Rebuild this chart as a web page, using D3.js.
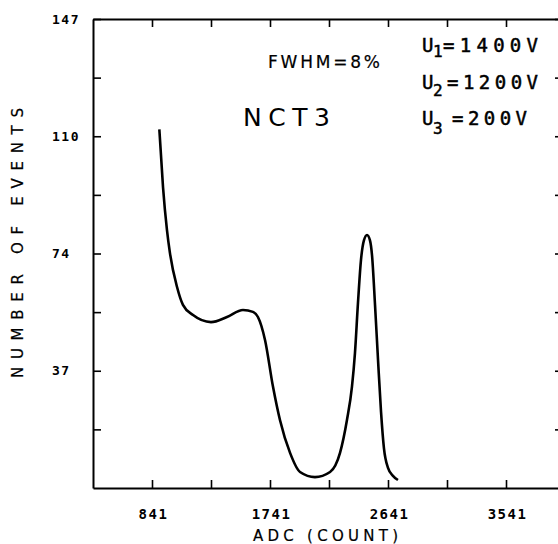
<!DOCTYPE html>
<html>
<head>
<meta charset="utf-8">
<script src="https://cdn.jsdelivr.net/npm/d3@7"></script>
<style>
  body { margin: 0; background: #fff; }
  svg { display: block; }
</style>
</head>
<body>
<div id="chart"></div>
<script>
// spectrum
var adcCounts = [897, 925, 955, 978, 1032, 1077, 1154, 1291, 1413, 1535, 1611, 1649, 1703, 1764, 1817, 1894, 1970, 2084, 2199, 2275, 2328, 2366, 2389, 2412, 2435, 2458, 2481, 2503, 2519, 2542, 2565, 2588, 2610, 2641, 2679, 2717];
var events = [112.4, 94.3, 80.9, 73.6, 63.0, 57.4, 54.2, 52.0, 53.6, 55.8, 55.2, 53.6, 46.4, 31.7, 21.3, 11.0, 5.0, 3.4, 5.0, 11.0, 21.3, 31.7, 42.3, 58.0, 71.5, 77.7, 79.3, 77.7, 73.0, 57.4, 40.1, 23.8, 12.5, 6.3, 3.8, 2.5];

// axes
var xDomain = [391, 3991];
var yDomain = [0, 147];
var xLabelTicks = [841, 1741, 2641, 3541];
var xMinorTicks = [1291, 2191, 3091];
var yLabelTicks = [36.75, 73.5, 110.25, 147];
var yLabels = ["37", "74", "110", "147"];
var yMinorTicks = [18.375, 55.125, 91.875, 128.625];

// annotations
var voltNames = ["1", "2", "3"];
var voltValues = ["=1400V", "=1200V", "=200V"];

var W = 558, H = 544;
var margin = {top: 19, right: -7, bottom: 56, left: 93},
    width = W - margin.left - margin.right,
    height = H - margin.top - margin.bottom;

var svg = d3.select("#chart").append("svg")
    .attr("width", W)
    .attr("height", H)
    .attr("font-family", "DejaVu Sans Mono");

var g = svg.append("g")
    .attr("transform", "translate(" + margin.left + "," + margin.top + ")");

var x = d3.scaleLinear().domain(xDomain).range([0, width]);
var y = d3.scaleLinear().domain(yDomain).range([height, 0]);

var allX = xLabelTicks.concat(xMinorTicks);
var allY = yLabelTicks.concat(yMinorTicks);

function styleAxis(sel) {
    sel.selectAll(".domain").attr("stroke", "#000").attr("stroke-width", 2);
    sel.selectAll(".tick line").attr("stroke", "#000").attr("stroke-width", 1.6);
}

// bottom axis, ticks pointing in
var bottomAxis = g.append("g")
    .attr("transform", "translate(0," + height + ")")
    .call(d3.axisBottom(x).tickValues(allX).tickSizeInner(-8).tickSizeOuter(0)
        .tickFormat(function(d) { return xLabelTicks.indexOf(d) >= 0 ? d : ""; }));
styleAxis(bottomAxis);
bottomAxis.selectAll(".tick text")
    .attr("y", 21)
    .attr("dx", 1)
    .attr("fill", "#000")
    .attr("font-size", 14)
    .attr("font-weight", "bold")
    .attr("letter-spacing", 1.5)
    .attr("font-family", "DejaVu Sans Mono");

// top axis
var topAxis = g.append("g")
    .call(d3.axisTop(x).tickValues(allX).tickSizeInner(-8).tickSizeOuter(0).tickFormat(""));
styleAxis(topAxis);

// left axis, labels left aligned
var leftAxis = g.append("g")
    .call(d3.axisLeft(y).tickValues(allY).tickSizeInner(-8).tickSizeOuter(0)
        .tickFormat(function(d) { var i = yLabelTicks.indexOf(d); return i >= 0 ? yLabels[i] : ""; }));
styleAxis(leftAxis);
leftAxis.selectAll(".tick text")
    .attr("text-anchor", "start")
    .attr("x", -41)
    .attr("fill", "#000")
    .attr("font-size", 13)
    .attr("font-weight", "bold")
    .attr("letter-spacing", 1.5)
    .attr("font-family", "DejaVu Sans Mono");

// right axis
var rightAxis = g.append("g")
    .attr("transform", "translate(" + width + ",0)")
    .call(d3.axisRight(y).tickValues(allY).tickSizeInner(-10).tickSizeOuter(0).tickFormat(""));
styleAxis(rightAxis);

// curve
var line = d3.line()
    .x(function(d, i) { return x(adcCounts[i]); })
    .y(function(d) { return y(d); })
    .curve(d3.curveMonotoneX);

g.append("path")
    .datum(events)
    .attr("fill", "none")
    .attr("stroke", "#000")
    .attr("stroke-width", 2.6)
    .attr("stroke-linejoin", "round")
    .attr("d", line);

// titles
svg.append("text")
    .attr("x", 253).attr("y", 541)
    .attr("font-family", "DejaVu Sans")
    .attr("font-size", 15)
    .attr("stroke", "#000").attr("stroke-width", 0.2)
    .attr("textLength", 145).attr("lengthAdjust", "spacing")
    .text("ADC (COUNT)");

svg.append("text")
    .attr("transform", "translate(23,243) rotate(-90)")
    .attr("text-anchor", "middle")
    .attr("font-family", "DejaVu Sans")
    .attr("font-size", 15)
    .attr("stroke", "#000").attr("stroke-width", 0.2)
    .attr("textLength", 270).attr("lengthAdjust", "spacing")
    .text("NUMBER OF EVENTS");

svg.append("text")
    .attr("x", 268).attr("y", 68)
    .attr("font-family", "DejaVu Sans")
    .attr("font-size", 17)
    .attr("stroke", "#000").attr("stroke-width", 0.2)
    .attr("textLength", 112).attr("lengthAdjust", "spacing")
    .text("FWHM=8%");

svg.append("text")
    .attr("x", 243).attr("y", 126)
    .attr("font-size", 25)
    .attr("font-family", "DejaVu Sans")
    .attr("textLength", 87).attr("lengthAdjust", "spacing")
    .text("NCT3");

var voltStart = [21, 25, 30];
var voltLength = [95, 91, 75];

var volt = svg.selectAll(".volt")
    .data(voltNames)
    .enter().append("g")
    .attr("class", "volt")
    .attr("transform", function(d, i) { return "translate(422," + (52 + i * 36.5) + ")"; });

volt.append("text")
    .attr("font-size", 19)
    .attr("stroke", "#000").attr("stroke-width", 0.5)
    .text("U");

volt.append("text")
    .attr("x", 11).attr("y", function(d, i) { return 5 + i * 2; })
    .attr("font-size", 16)
    .attr("stroke", "#000").attr("stroke-width", 0.5)
    .text(function(d) { return d; });

volt.append("text")
    .attr("x", function(d, i) { return voltStart[i]; })
    .attr("font-size", 19)
    .attr("stroke", "#000").attr("stroke-width", 0.5)
    .attr("textLength", function(d, i) { return voltLength[i]; })
    .attr("lengthAdjust", "spacing")
    .text(function(d, i) { return voltValues[i]; });
</script>
</body>
</html>
